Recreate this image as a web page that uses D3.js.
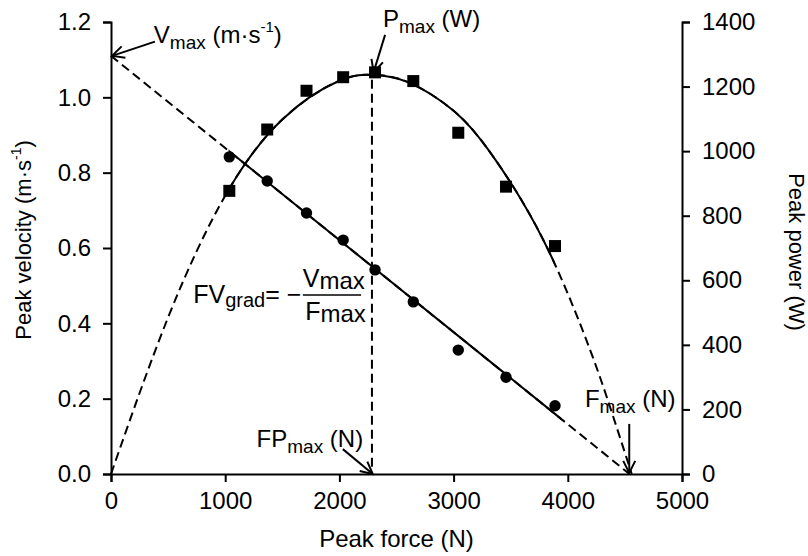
<!DOCTYPE html>
<html lang="en">
<head>
  <meta charset="utf-8">
  <script src="https://d3js.org/d3.v7.min.js"></script>
  <style>
    body { margin: 0; background: #fff; }
    svg { font-family: "Liberation Sans", Arial, sans-serif; }
    .axis path, .axis line { stroke: #000; stroke-width: 2; }
    .axis text { font-size: 24px; fill: #000; }
  </style>
</head>
<body>
  <svg width="808" height="556"></svg>
  <script>
    // measured points (same force for both series)
    var force    = [1036, 1368, 1712, 2033, 2312, 2647, 3041, 3459, 3888];
    var velocity = [0.842, 0.778, 0.693, 0.621, 0.542, 0.457, 0.329, 0.257, 0.181];
    var power    = [877, 1067, 1187, 1229, 1244, 1217, 1057, 890, 706];

    // linear F-V fit
    var vFitForce = [0, 4540];
    var vFitVel   = [1.11, 0];
    var vSolid    = [1030, 3945];

    // power fit curve
    var pFitForce = [0, 500, 1000, 1500, 2000, 2300, 2600, 3000, 3300, 3600, 3900, 4200, 4400, 4560];
    var pFitPower = [0, 485, 862, 1098, 1218, 1236, 1214, 1125, 1006, 845, 640, 380, 175, 0];
    var pSolid    = [1036, 3885];

    var fpMax = 2285, pMax = 1240;

    var xTicks = [0, 1000, 2000, 3000, 4000, 5000];
    var vTicks = [0, 0.2, 0.4, 0.6, 0.8, 1.0, 1.2];
    var pTicks = [0, 200, 400, 600, 800, 1000, 1200, 1400];

    var svg = d3.select("svg");
    var mLeft = 111, mRight = 682, mTop = 22, mBottom = 474;

    var x  = d3.scaleLinear().domain([0, 5000]).range([mLeft, mRight]);
    var yV = d3.scaleLinear().domain([0, 1.2]).range([mBottom, mTop]);
    var yP = d3.scaleLinear().domain([0, 1400]).range([mBottom, mTop]);

    var defs = svg.append("defs");
    defs.append("marker").attr("id", "arr")
      .attr("markerUnits", "userSpaceOnUse")
      .attr("viewBox", "-14 -8 16 16").attr("markerWidth", 16).attr("markerHeight", 16)
      .attr("refX", 0).attr("refY", 0).attr("orient", "auto")
      .append("path").attr("d", "M-12,-6L0,0L-12,6")
      .attr("fill", "none").attr("stroke", "#000").attr("stroke-width", 2);
    defs.append("clipPath").attr("id", "clipV").append("rect")
      .attr("x", x(vSolid[0])).attr("width", x(vSolid[1]) - x(vSolid[0]))
      .attr("y", 0).attr("height", 556);
    defs.append("clipPath").attr("id", "clipP").append("rect")
      .attr("x", x(pSolid[0])).attr("width", x(pSolid[1]) - x(pSolid[0]))
      .attr("y", 0).attr("height", 556);

    // axes
    svg.append("g").attr("class", "axis").attr("transform", "translate(0," + mBottom + ")")
      .call(d3.axisBottom(x).tickValues(xTicks).tickFormat(d3.format("d")).tickSize(8).tickPadding(10));
    svg.append("g").attr("class", "axis").attr("transform", "translate(" + mLeft + ",0)")
      .call(d3.axisLeft(yV).tickValues(vTicks).tickFormat(d3.format(".1f")).tickSize(8).tickPadding(12));
    svg.append("g").attr("class", "axis").attr("transform", "translate(" + mRight + ",0)")
      .call(d3.axisRight(yP).tickValues(pTicks).tickFormat(d3.format("d")).tickSize(8).tickPadding(12));
    svg.selectAll(".axis").attr("font-family", null).attr("font-size", null);

    // velocity fit line
    var vLine = d3.line().x(function (d) { return x(d[0]); }).y(function (d) { return yV(d[1]); });
    var vPts = d3.zip(vFitForce, vFitVel);
    svg.append("path").attr("d", vLine(vPts)).attr("fill", "none")
      .attr("stroke", "#000").attr("stroke-width", 2).attr("stroke-dasharray", "9,5");
    svg.append("path").attr("d", vLine(vPts)).attr("fill", "none").attr("clip-path", "url(#clipV)")
      .attr("stroke", "#000").attr("stroke-width", 2);

    // power fit curve
    var pLine = d3.line().curve(d3.curveNatural)
      .x(function (d) { return x(d[0]); }).y(function (d) { return yP(d[1]); });
    var pPts = d3.zip(pFitForce, pFitPower);
    svg.append("path").attr("d", pLine(pPts)).attr("fill", "none")
      .attr("stroke", "#000").attr("stroke-width", 2).attr("stroke-dasharray", "9,5");
    svg.append("path").attr("d", pLine(pPts)).attr("fill", "none").attr("clip-path", "url(#clipP)")
      .attr("stroke", "#000").attr("stroke-width", 2);

    // FPmax vertical
    svg.append("line").attr("x1", x(fpMax)).attr("x2", x(fpMax))
      .attr("y1", yP(pMax) + 6).attr("y2", yP(0))
      .attr("stroke", "#000").attr("stroke-width", 2).attr("stroke-dasharray", "9,5");

    // markers
    svg.selectAll("rect.pw").data(d3.zip(force, power)).enter().append("rect").attr("class", "pw")
      .attr("x", function (d) { return x(d[0]) - 6; }).attr("y", function (d) { return yP(d[1]) - 6; })
      .attr("width", 12).attr("height", 12).attr("fill", "#000");
    svg.selectAll("circle.vl").data(d3.zip(force, velocity)).enter().append("circle").attr("class", "vl")
      .attr("cx", function (d) { return x(d[0]); }).attr("cy", function (d) { return yV(d[1]); })
      .attr("r", 5.7).attr("fill", "#000");

    // arrows
    function arrow(x1, y1, x2, y2) {
      svg.append("line").attr("x1", x1).attr("y1", y1).attr("x2", x2).attr("y2", y2)
        .attr("stroke", "#000").attr("stroke-width", 2).attr("marker-end", "url(#arr)");
    }
    arrow(x(385), yV(1.148), x(10), yV(1.11));
    arrow(x(2400), yP(1360), x(2300), yP(1245));
    arrow(x(2030), yV(0.066), x(2292), yV(0));
    arrow(x(4538), yV(0.133), x(4538), yV(0.003));

    // labels: parts are [text, font-size, dy]
    function label(px, py, parts) {
      var t = svg.append("text").attr("x", px).attr("y", py);
      parts.forEach(function (p) {
        t.append("tspan").text(p[0]).attr("font-size", p[1]).attr("dy", p[2] || 0);
      });
      return t;
    }
    label(x(375), yV(1.144), [["V", 24], ["max", 19, 6], [" (m·s", 24, -6], ["-1", 15, -11], [")", 24, 11]]);
    label(x(2382), yP(1385), [["P", 24], ["max", 19, 6], [" (W)", 24, -6]]);
    label(x(720), yV(0.454), [["FV", 25], ["grad", 20, 4], ["= −", 25, -4]]);
    label(x(1680), yV(0.497), [["V", 25], ["max", 24, 2]]);
    label(x(1700), yV(0.41), [["F", 25], ["max", 24, 2]]);
    svg.append("line").attr("x1", x(1680)).attr("x2", x(2190)).attr("y1", yV(0.475)).attr("y2", yV(0.475))
      .attr("stroke", "#000").attr("stroke-width", 1.5);
    label(x(1275), yV(0.073), [["FP", 24], ["max", 19, 6], [" (N)", 24, -6]]);
    label(x(4150), yV(0.178), [["F", 24], ["max", 19, 6], [" (N)", 24, -6]]);

    // axis titles
    svg.append("text").attr("x", (mLeft + mRight) / 2).attr("y", 547).attr("text-anchor", "middle")
      .attr("font-size", 24).text("Peak force (N)");
    var lt = svg.append("text").attr("transform", "translate(31,240) rotate(-90)")
      .attr("text-anchor", "middle").attr("font-size", 22);
    lt.append("tspan").text("Peak velocity (m·s");
    lt.append("tspan").text("-1").attr("font-size", 14).attr("dy", -10);
    lt.append("tspan").text(")").attr("dy", 10);
    svg.append("text").attr("transform", "translate(789,252) rotate(90)")
      .attr("text-anchor", "middle").attr("font-size", 22).text("Peak power (W)");
  </script>
</body>
</html>
